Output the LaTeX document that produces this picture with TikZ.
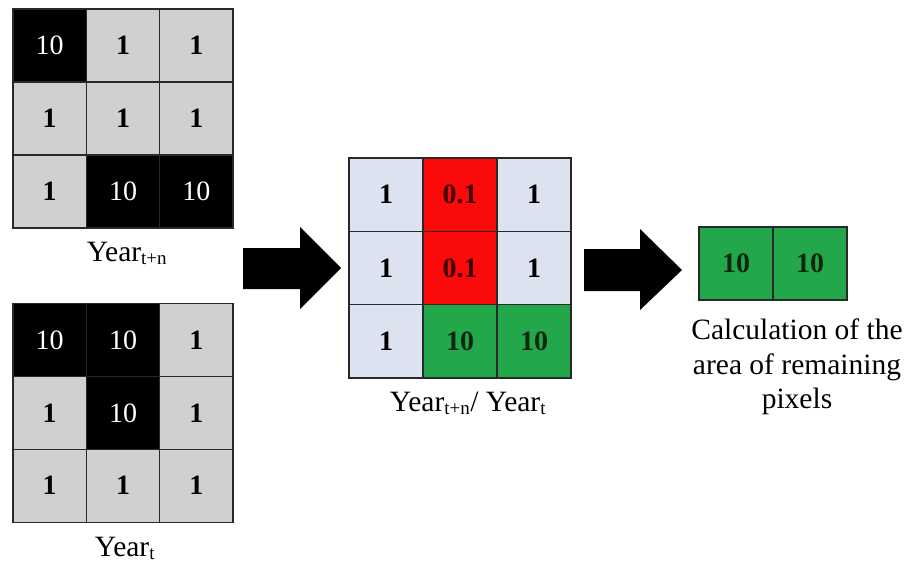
\documentclass[tikz,border=0pt]{standalone}
\usepackage{fontspec}
\setmainfont{Liberation Serif}
\definecolor{cgrey}{RGB}{208,208,208}
\definecolor{cblue}{RGB}{221,226,240}
\definecolor{cred}{RGB}{250,10,10}
\definecolor{cgreen}{RGB}{34,168,74}
\definecolor{cline}{RGB}{40,40,40}
\begin{document}
\begin{tikzpicture}[x=1pt,y=-1pt,
  cell/.style={draw=cline, line width=1.3pt, minimum width=73.3pt, minimum height=73pt, inner sep=0pt, font=\fontsize{28}{28}\selectfont},
  gcell/.style={cell, fill=cgrey, font=\fontsize{28}{28}\selectfont\bfseries},
  kcell/.style={cell, fill=black, text=white},
  bcell/.style={cell, fill=cblue, minimum width=74pt, minimum height=73.3pt, font=\fontsize{28}{28}\selectfont\bfseries},
  rcell/.style={bcell, fill=cred, text={rgb,255:red,60;green,0;blue,0}},
  ecell/.style={bcell, fill=cgreen, text={rgb,255:red,15;green,40;blue,15}},
  lbl/.style={font=\fontsize{29.5}{34}\selectfont, inner sep=0pt, align=center},
  bigarrow/.style={fill=black, draw=none}
]
\useasboundingbox (0,0) rectangle (907,562);
% top-left grid (Year t+n)
\node[kcell] (a11) at (49.7,45.5) {10};
\node[gcell] (a12) at (123,45.5) {1};
\node[gcell] (a13) at (196.3,45.5) {1};
\node[gcell] (a21) at (49.7,118.5) {1};
\node[gcell] (a22) at (123,118.5) {1};
\node[gcell] (a23) at (196.3,118.5) {1};
\node[gcell] (a31) at (49.7,191.5) {1};
\node[kcell] (a32) at (123,191.5) {10};
\node[kcell] (a33) at (196.3,191.5) {10};
\node[lbl, anchor=base] (la) at (127,261) {Year\textsubscript{\fontsize{19}{19}\selectfont t+n}};
% bottom-left grid (Year t)
\node[kcell] (b11) at (49.7,340.3) {10};
\node[kcell] (b12) at (123,340.3) {10};
\node[gcell] (b13) at (196.3,340.3) {1};
\node[gcell] (b21) at (49.7,413) {1};
\node[kcell] (b22) at (123,413) {10};
\node[gcell] (b23) at (196.3,413) {1};
\node[gcell] (b31) at (49.7,485.7) {1};
\node[gcell] (b32) at (123,485.7) {1};
\node[gcell] (b33) at (196.3,485.7) {1};
\node[lbl, anchor=base] (lb) at (125,556) {Year\textsubscript{\fontsize{19}{19}\selectfont t}};
% middle grid (ratio)
\node[bcell] (c11) at (386,194.7) {1};
\node[rcell] (c12) at (460,194.7) {0.1};
\node[bcell] (c13) at (534,194.7) {1};
\node[bcell] (c21) at (386,268) {1};
\node[rcell] (c22) at (460,268) {0.1};
\node[bcell] (c23) at (534,268) {1};
\node[bcell] (c31) at (386,341.3) {1};
\node[ecell] (c32) at (460,341.3) {10};
\node[ecell] (c33) at (534,341.3) {10};
\node[lbl, anchor=base] (lc) at (468,411) {Year\textsubscript{\fontsize{19}{19}\selectfont t+n}/ Year\textsubscript{\fontsize{19}{19}\selectfont t}};
% right result
\node[ecell, minimum height=73pt] (d1) at (736,263.5) {10};
\node[ecell, minimum height=73pt] (d2) at (810,263.5) {10};
\node[lbl, anchor=base] (ld1) at (797,339) {Calculation of the};
\node[lbl, anchor=base] (ld2) at (797,374) {area of remaining};
\node[lbl, anchor=base] (ld3) at (797,408) {pixels};
% block arrows
\fill[bigarrow] (243,248) -- (300,248) -- (300,227) -- (341,268) -- (300,309) -- (300,289) -- (243,289) -- cycle;
\fill[bigarrow] (584,249) -- (640,249) -- (640,229) -- (682,270) -- (640,310) -- (640,291) -- (584,291) -- cycle;
\end{tikzpicture}
\end{document}
